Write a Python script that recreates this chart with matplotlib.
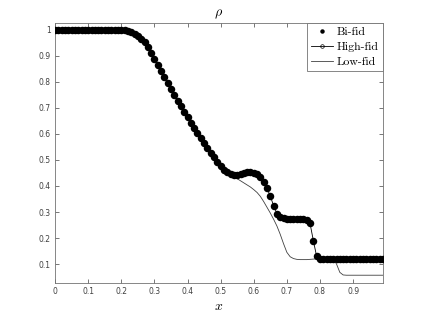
import numpy as np
import matplotlib
matplotlib.use("Agg")
import matplotlib.pyplot as plt

# grid points (x = 0:0.01:0.99)
x = np.arange(100) / 100.0

# high-fidelity density at every grid point
rho_high = np.array(
    [1.000] * 21 +
    [0.999, 0.997, 0.992, 0.985, 0.977, 0.967, 0.952, 0.933, 0.911,   # 0.21-0.29
     0.888, 0.864, 0.841, 0.818, 0.795, 0.772, 0.750, 0.728, 0.707, 0.686,  # 0.30-0.39
     0.666, 0.644, 0.623, 0.603, 0.583, 0.565, 0.546, 0.528, 0.511, 0.493,  # 0.40-0.49
     0.475, 0.461, 0.452, 0.446, 0.443, 0.443, 0.446, 0.450, 0.452, 0.452,  # 0.50-0.59
     0.450, 0.445, 0.434, 0.416, 0.391, 0.361, 0.324, 0.294, 0.282, 0.277,  # 0.60-0.69
     0.274, 0.273, 0.273, 0.273, 0.273, 0.272, 0.268, 0.256, 0.190, 0.129,  # 0.70-0.79
     0.120] + [0.120] * 19)

# bi-fidelity points sit on top of the high-fidelity curve
rho_bifid = rho_high.copy()

# low-fidelity density
rho_low = np.concatenate([
    rho_high[:51],
    [0.460, 0.451, 0.443, 0.436, 0.428, 0.420, 0.412, 0.404, 0.396,   # 0.51-0.59
     0.386, 0.375, 0.360, 0.340, 0.318, 0.296, 0.272, 0.246, 0.214, 0.178,  # 0.60-0.69
     0.145, 0.128, 0.121, 0.118, 0.117, 0.117, 0.117, 0.118, 0.119, 0.120,  # 0.70-0.79
     0.120, 0.120, 0.120, 0.120, 0.120, 0.100, 0.068, 0.058, 0.057, 0.057,  # 0.80-0.89
     0.057, 0.057, 0.057, 0.057, 0.057, 0.057, 0.057, 0.057, 0.057, 0.057],  # 0.90-0.99
])

x_ticks = [0, 0.1, 0.2, 0.3, 0.4, 0.5, 0.6, 0.7, 0.8, 0.9]
x_tick_labels = ["0", "0.1", "0.2", "0.3", "0.4", "0.5", "0.6", "0.7", "0.8", "0.9"]
y_ticks = [0.1, 0.2, 0.3, 0.4, 0.5, 0.6, 0.7, 0.8, 0.9, 1.0]
y_tick_labels = ["0.1", "0.2", "0.3", "0.4", "0.5", "0.6", "0.7", "0.8", "0.9", "1"]

plt.rcParams["mathtext.fontset"] = "cm"

fig = plt.figure(figsize=(4.24, 3.18), dpi=100)
ax = fig.add_axes([0.13, 0.11, 0.773, 0.818])

ax.plot(x, rho_bifid, linestyle="none", marker="o", markersize=5.4,
        markerfacecolor="black", markeredgewidth=0, color="black",
        label="Bi-fid", zorder=3)
ax.plot(x, rho_high, "-o", color="black", linewidth=0.6, markersize=2.6,
        markerfacecolor="none", markeredgewidth=0.5, label="High-fid", zorder=2)
ax.plot(x, rho_low, "-", color="0.25", linewidth=0.6, label="Low-fid", zorder=1)

ax.set_xlim(0, 0.99)
ax.set_ylim(0.027, 1.027)
ax.set_xticks(x_ticks, labels=x_tick_labels)
ax.set_yticks(y_ticks, labels=y_tick_labels)
ax.tick_params(direction="in", length=3, width=0.5, labelsize=5.5,
               colors="0.25", top=True, right=True, pad=3)
for spine in ax.spines.values():
    spine.set_color("0.45")
    spine.set_linewidth(0.6)

ax.set_title(r"$\rho$", fontsize=10, pad=5)
ax.set_xlabel(r"$x$", fontsize=10, labelpad=2)

leg = ax.legend(loc="upper right", prop={"family": "cmr10", "size": 8.5},
                fancybox=False, borderaxespad=0, handlelength=1.9,
                handletextpad=0.3, borderpad=0.35, labelspacing=0.4,
                framealpha=1)
leg.get_frame().set_edgecolor("0.45")
leg.get_frame().set_linewidth(0.6)
# the Bi-fid legend symbol is a small dot
leg.legend_handles[0].set_markersize(3.2)

fig.savefig("out.png", dpi=100)
